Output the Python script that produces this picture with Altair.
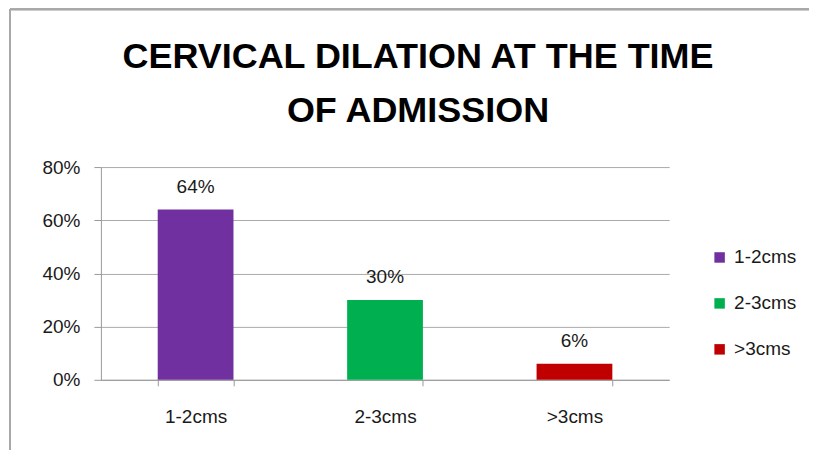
import altair as alt
import pandas as pd

categories = ["1-2cms", "2-3cms", ">3cms"]
values = [0.64, 0.30, 0.06]
labels = ["64%", "30%", "6%"]
colors = ["#7030A0", "#00B050", "#C00000"]

df = pd.DataFrame({"cat": categories, "val": values, "lab": labels})

W, H = 569, 213
FONT = "Liberation Sans"

x_enc = alt.X("cat:N", sort=categories, title=None,
              scale=alt.Scale(paddingInner=0.6, paddingOuter=0.3),
              axis=alt.Axis(labelAngle=0, labelFontSize=19, labelFont=FONT, labelColor="#1a1a1a",
                            tickBand="extent", tickSize=6, tickColor="#999999",
                            domainColor="#999999", labelPadding=22, grid=False))
y_enc = alt.Y("val:Q", title=None,
              scale=alt.Scale(domain=[0, 0.8]),
              axis=alt.Axis(format=".0%", values=[0, 0.2, 0.4, 0.6, 0.8], labelFontSize=19,
                            labelFont=FONT, labelColor="#1a1a1a", tickSize=7, tickColor="#999999",
                            domainColor="#999999", gridColor="#AAAAAA", labelPadding=14))

bars = alt.Chart(df).mark_bar().encode(
    x=x_enc, y=y_enc,
    color=alt.Color("cat:N", sort=categories, title=None,
                    scale=alt.Scale(domain=categories, range=colors),
                    legend=alt.Legend(orient="none", legendX=610, legendY=81, symbolType="square",
                                      symbolSize=110, symbolStrokeWidth=0, labelFontSize=19,
                                      labelFont=FONT, labelColor="#1a1a1a", rowPadding=26,
                                      padding=0, labelOffset=5)),
)

text = alt.Chart(df).mark_text(dy=-23, fontSize=19, font=FONT, color="#1a1a1a", baseline="middle").encode(
    x=alt.X("cat:N", sort=categories), y="val:Q", text="lab:N"
)

border_left = alt.Chart(df).mark_rule(color="#A8A8A8", strokeWidth=2, clip=False).encode(
    x=alt.value(-91), y=alt.value(-158), y2=alt.value(300)
)
border_top = alt.Chart(df).mark_rule(color="#A8A8A8", strokeWidth=2, clip=False).encode(
    x=alt.value(-91), x2=alt.value(760), y=alt.value(-158)
)

chart = alt.layer(bars, text, border_left, border_top).properties(
    width=W, height=H,
    title=alt.TitleParams(["CERVICAL DILATION  AT THE TIME", "OF ADMISSION"], fontSize=36,
                          font=FONT, fontWeight="bold", color="#000000",
                          lineHeight=54, anchor="middle", dx=33, offset=-122),
    autosize=alt.AutoSizeParams(type="none"),
    padding={"left": 93, "top": 159, "right": 140, "bottom": 70},
).configure_view(stroke=None)

chart.save("out.html", embed_options={"renderer": "svg", "actions": False})
